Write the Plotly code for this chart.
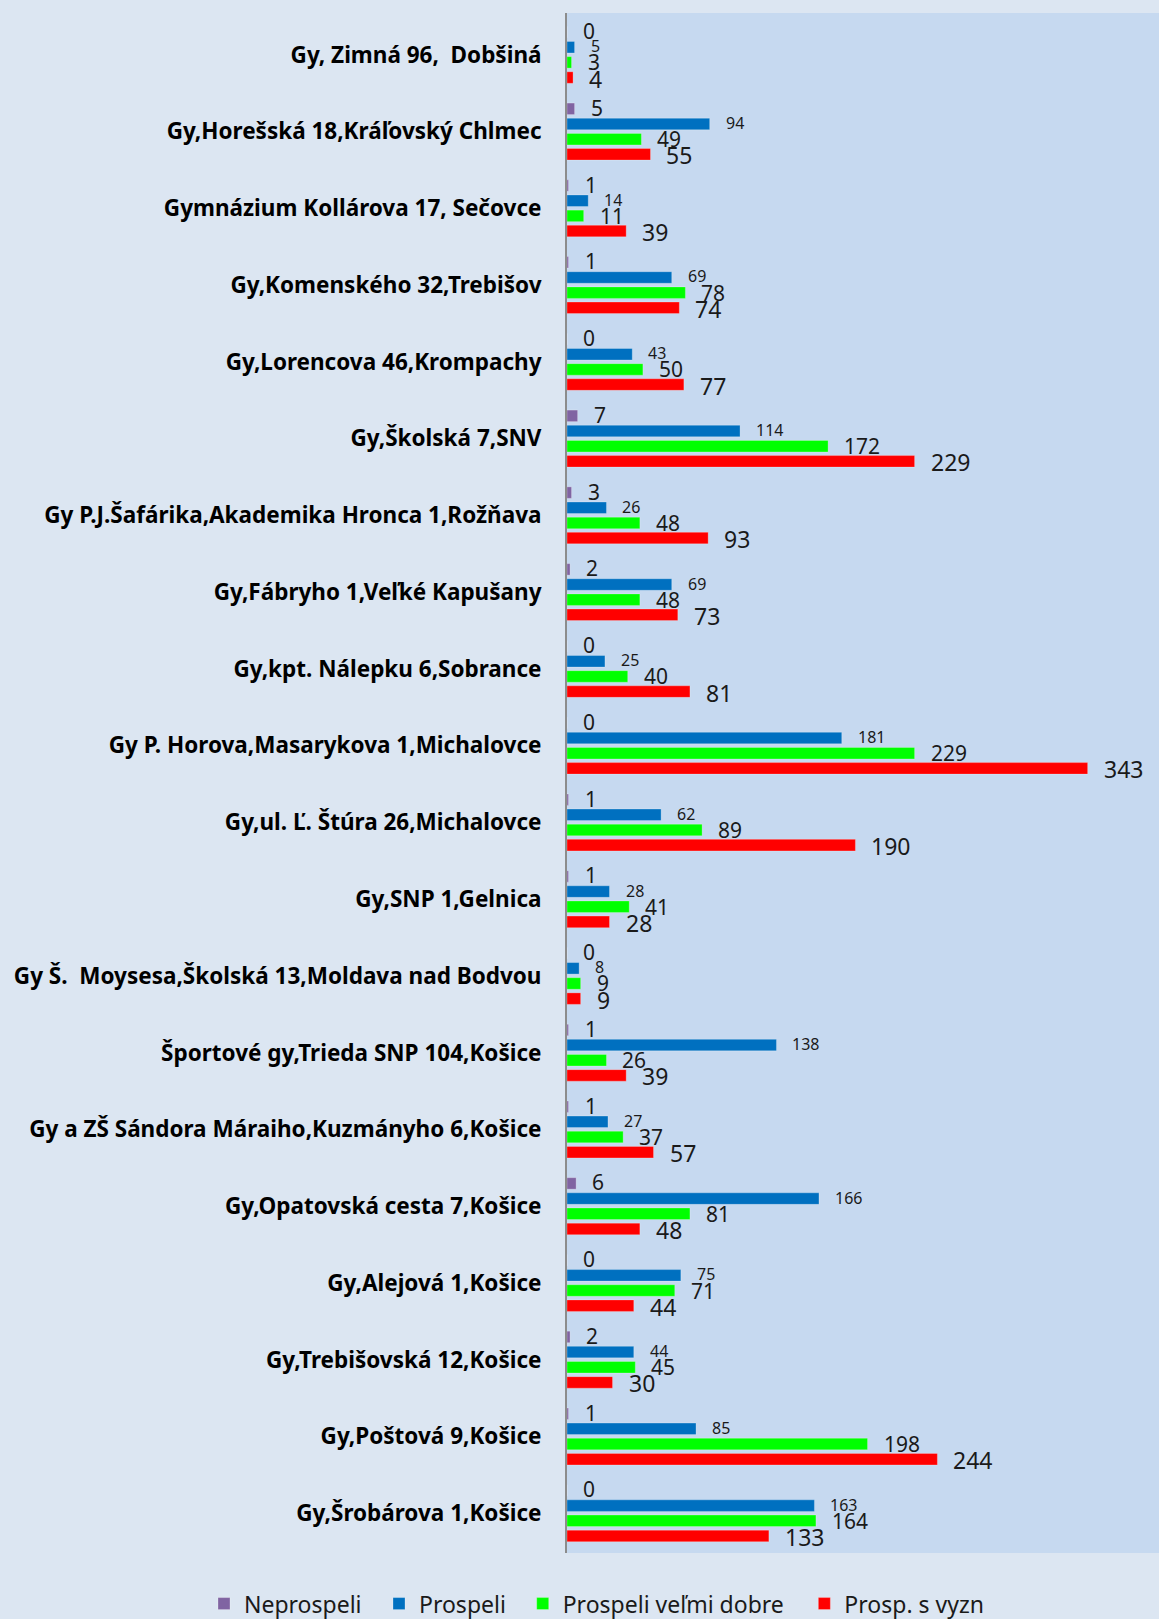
import plotly.graph_objects as go

categories = [
    "Gy, Zimná 96,  Dobšiná",
    "Gy,Horešská 18,Kráľovský Chlmec",
    "Gymnázium Kollárova 17, Sečovce",
    "Gy,Komenského 32,Trebišov",
    "Gy,Lorencova 46,Krompachy",
    "Gy,Školská 7,SNV",
    "Gy P.J.Šafárika,Akademika Hronca 1,Rožňava",
    "Gy,Fábryho 1,Veľké Kapušany",
    "Gy,kpt. Nálepku 6,Sobrance",
    "Gy P. Horova,Masarykova 1,Michalovce",
    "Gy,ul. Ľ. Štúra 26,Michalovce",
    "Gy,SNP 1,Gelnica",
    "Gy Š.  Moysesa,Školská 13,Moldava nad Bodvou",
    "Športové gy,Trieda SNP 104,Košice",
    "Gy a ZŠ Sándora Máraiho,Kuzmányho 6,Košice",
    "Gy,Opatovská cesta 7,Košice",
    "Gy,Alejová 1,Košice",
    "Gy,Trebišovská 12,Košice",
    "Gy,Poštová 9,Košice",
    "Gy,Šrobárova 1,Košice",
]

neprospeli = [0, 5, 1, 1, 0, 7, 3, 2, 0, 0, 1, 1, 0, 1, 1, 6, 0, 2, 1, 0]
prospeli = [5, 94, 14, 69, 43, 114, 26, 69, 25, 181, 62, 28, 8, 138, 27, 166, 75, 44, 85, 163]
velmi_dobre = [3, 49, 11, 78, 50, 172, 48, 48, 40, 229, 89, 41, 9, 26, 37, 81, 71, 45, 198, 164]
s_vyzn = [4, 55, 39, 74, 77, 229, 93, 73, 81, 343, 190, 28, 9, 39, 57, 48, 44, 30, 244, 133]

series_names = ["Neprospeli", "Prospeli", "Prospeli veľmi dobre", "Prosp. s vyzn"]
series_values = [neprospeli, prospeli, velmi_dobre, s_vyzn]
colors = ["#8064A2", "#0070C0", "#00FF00", "#FF0000"]
label_sizes = [21, 16, 21, 23]
label_dy = [1, 1, 0, -1]
legend_ids = ["legend", "legend2", "legend3", "legend4"]
legend_x = [0.176, 0.327, 0.451, 0.694]

FONT = "Noto Sans"

fig = go.Figure()
for name, vals, col, lg in zip(series_names, series_values, colors, legend_ids):
    fig.add_trace(go.Bar(
        y=categories, x=vals, name=name, orientation="h",
        marker=dict(color=col, line=dict(color="rgba(255,255,255,0.25)", width=1)),
        hoverinfo="x+name", legend=lg,
    ))

slot = 15.2
annotations = []
for i, vals in enumerate(series_values):
    for c, v in zip(categories, vals):
        annotations.append(dict(
            x=v, y=c, xref="x", yref="y", text=str(v), showarrow=False,
            xanchor="left", yanchor="middle", xshift=14,
            yshift=-(i - 1.5) * slot + label_dy[i],
            font=dict(family=FONT, size=label_sizes[i], color="#1a1a1a"),
        ))

legend_style = dict(
    orientation="h", xref="container", yref="container",
    xanchor="left", y=0.0095, yanchor="middle",
    font=dict(family=FONT, size=23, color="#1a1a1a"),
    bgcolor="rgba(0,0,0,0)", itemwidth=30,
)
legends = {lg: dict(legend_style, x=lx) for lg, lx in zip(legend_ids, legend_x)}

fig.update_layout(
    width=1159, height=1619,
    barmode="group", bargap=0.21, bargroupgap=0.24,
    paper_bgcolor="#DCE6F2", plot_bgcolor="#C6D9F0",
    margin=dict(l=567, r=0, t=13, b=66, autoexpand=False),
    font=dict(family=FONT, color="#000000"),
    annotations=annotations,
    showlegend=True,
    **legends,
)
fig.update_xaxes(range=[0, 390], visible=False, showgrid=False, zeroline=False)
fig.update_yaxes(
    autorange="reversed", showgrid=False, zeroline=False,
    showline=True, linecolor="#8c8c8c", linewidth=2,
    ticks="", ticklabelstandoff=19,
    tickfont=dict(family=FONT, size=22.5, color="#000000", weight="bold"),
)

fig.write_html(
    "out.html",
    config={"displayModeBar": False},
    post_script="document.body.style.margin='0';document.body.style.background='#DCE6F2';",
)
